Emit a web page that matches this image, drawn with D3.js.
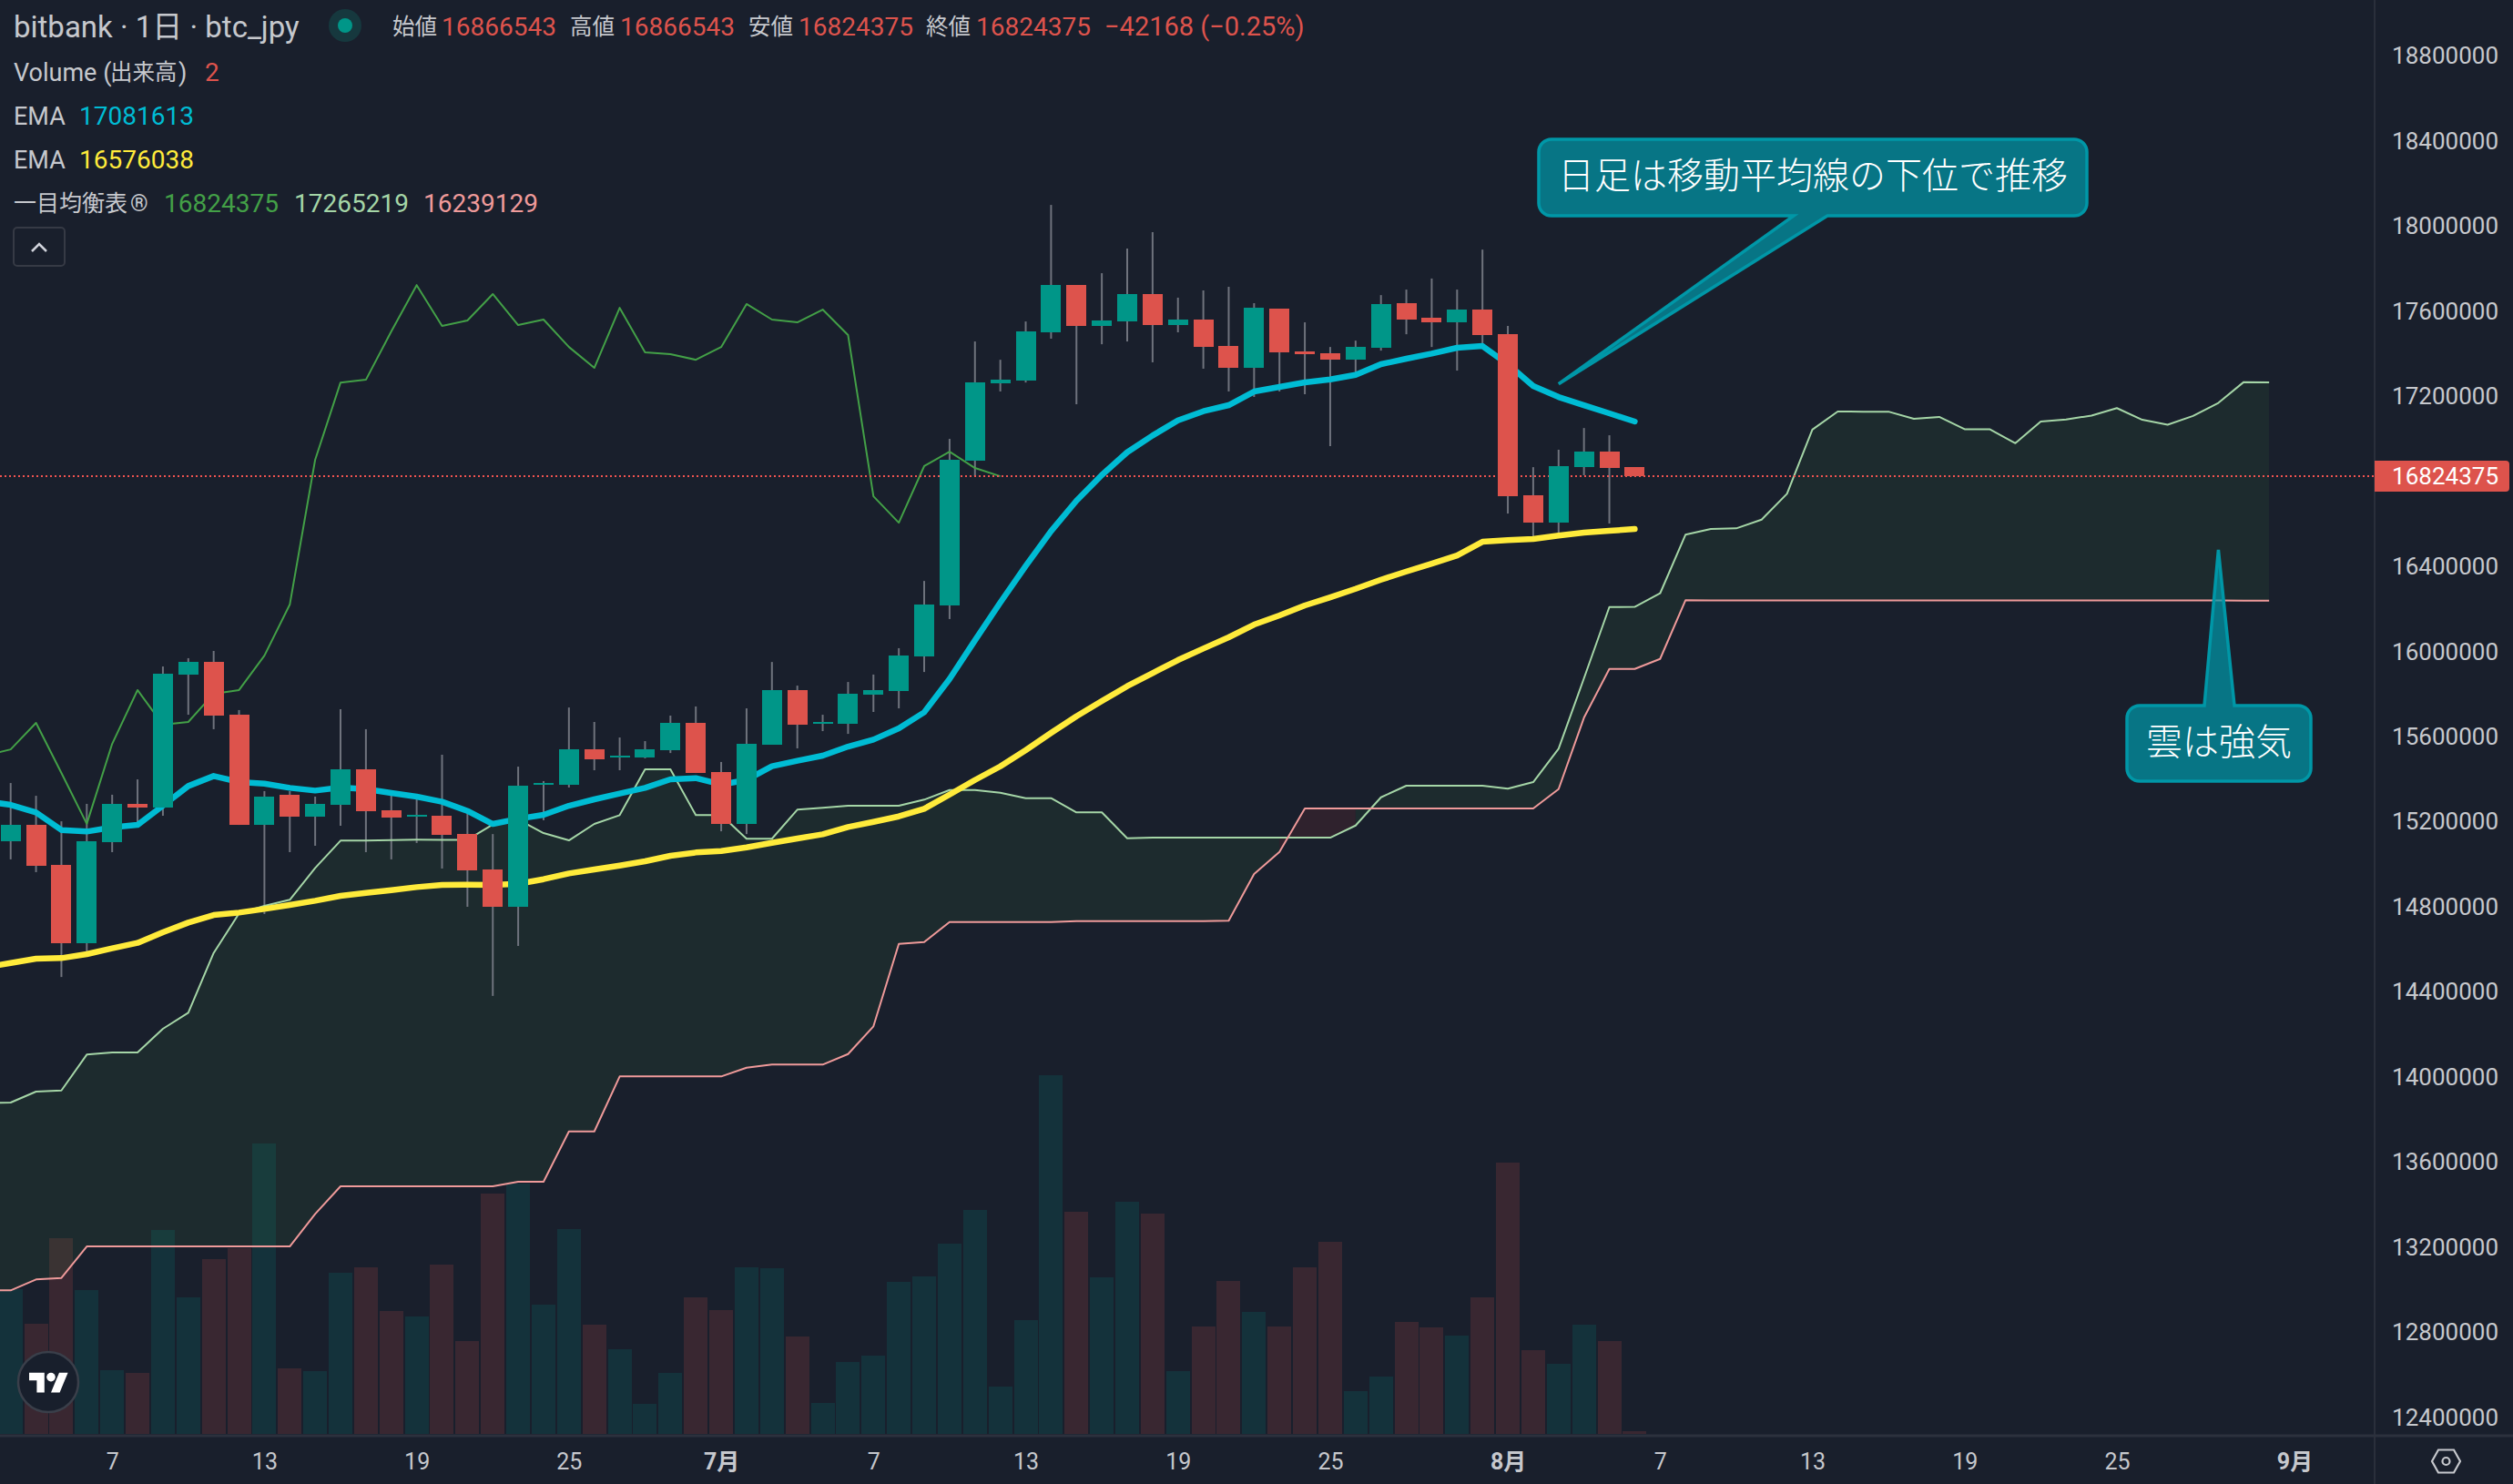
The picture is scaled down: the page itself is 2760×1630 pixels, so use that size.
<!DOCTYPE html>
<html>
<head>
<meta charset="utf-8">
<script src="https://cdn.jsdelivr.net/npm/d3@7"></script>
<style>
	html, body { margin: 0; padding: 0; background: #191f2c; }
	svg { display: block; }
	text { font-family: Roboto, "Noto Sans CJK JP", sans-serif; }
</style>
</head>
<body>
<svg id="chart" width="2760" height="1630"></svg>
<script>
// all prices in thousand yen, bar 0 = June 3
var opens = [15108,15185,14997,14629,15104,15284,15267,15892,15951,15703,15185,15327,15224,15279,15446,15254,15224,15228,15142,14975,14800,15374,15374,15540,15502,15502,15536,15665,15433,15190,15562,15819,15660,15660,15797,15814,15977,16217,16897,17261,17274,17501,17723,17531,17552,17681,17535,17561,17437,17334,17612,17411,17402,17372,17428,17638,17569,17548,17608,17492,16735,16606,16867,16940,16866.543];
var highs = [15382,15322,15202,15284,15327,15399,15930,15969,16003,15725,15344,15344,15318,15729,15635,15348,15305,15515,15241,15142,15459,15391,15737,15669,15596,15579,15699,15742,15481,15733,15951,15840,15703,15857,15892,16016,16332,17000,17458,17372,17552,18100,17723,17779,17895,17972,17664,17698,17715,17638,17612,17548,17432,17462,17676,17702,17754,17702,17890,17531,16867,16949,17051,17017,16866.543];
var lows = [15023,14963,14470,14582,15057,15194,15228,15703,15635,15185,14766,15057,15087,15181,15057,15023,15100,14980,14800,14381,14616,15207,15361,15442,15442,15498,15523,15429,15155,15142,15562,15545,15626,15613,15716,15733,15904,16153,16825,17223,17265,17471,17163,17445,17458,17360,17501,17330,17223,17197,17223,17210,16966,17313,17415,17492,17432,17321,17450,16649,16538,16538,16829,16602,16824.375];
var closes = [15185,14993,14629,15108,15284,15267,15896,15951,15699,15185,15318,15224,15284,15446,15249,15220,15232,15138,14971,14800,15369,15382,15540,15493,15510,15540,15665,15429,15190,15566,15819,15656,15669,15802,15819,15981,16221,16902,17265,17278,17505,17723,17531,17557,17681,17535,17561,17432,17334,17616,17407,17398,17372,17432,17634,17561,17548,17608,17488,16730,16606,16872,16940,16863,16824.375];
var volumes = [106,80.7,143.3,105.3,46.7,44.7,149.3,100,128,136,212.7,48,46,118,122,90,86,124,68,176,183.3,94.7,150,80,62,22,44.7,100,90.7,122,121.3,71.3,22.7,52.7,57.3,111.3,115.3,139.3,164,34.7,83.3,262.7,162.7,114.7,170,161.3,46,78.7,112,89.3,78.7,122,140.7,31.3,42,82,78,72,100,198.7,61.3,51.3,80,68,2];

// line arrays start one bar left of the visible window (bar -1)
var emaFast = [15296.5,15279.4,15243.7,15161,15153.8,15173.8,15185.2,15275.1,15367.8,15414.9,15386.4,15379.3,15359.3,15346.4,15360.7,15353.6,15335,15317.9,15293.7,15250.8,15189.5,15213.8,15232.3,15275.1,15305.1,15332.2,15359.3,15399.2,15404.9,15375,15396.4,15460.6,15486.3,15510.5,15553.3,15586.1,15638.9,15714.5,15871.5,16052.7,16231,16402.3,16566.4,16709.1,16830.3,16937.3,17015.8,17087.2,17130,17158.5,17222.7,17244.1,17265.5,17279.8,17301.2,17351.1,17376.8,17401.1,17428.2,17436.7,17351.1,17248.4,17197,17158.5,17120,17081.6];
var emaSlow = [14514.6,14536,14556,14558.9,14577.4,14604.5,14630.2,14680.1,14725.8,14761.5,14772.8,14790,14808.5,14828.5,14851.3,14865.6,14878.4,14892.7,14902.7,14904.1,14902.7,14908.4,14929.8,14956.9,14975.5,14994,15014,15039.7,15055.4,15062.5,15079.6,15101,15121,15141,15175.4,15199.3,15225,15261,15327.8,15396.2,15460.4,15536.2,15617.5,15695.9,15767.3,15837.1,15898.8,15960,16014.3,16067,16126.9,16169.7,16216.8,16255.3,16295.1,16337.9,16376.5,16413.7,16452.2,16516.4,16523.7,16529.3,16545.1,16559.2,16567.8,16576];
var leadA = [13878,13879.6,13931,13936.6,14105.3,14115.1,14115,14226.4,14302.2,14583,14768.7,14804.3,14833,14982.8,15111.2,15111,15113.7,15115.4,15115,15115,15186.5,15210.9,15146.7,15112.4,15189.5,15231,15446.3,15446,15231,15231,15119.7,15120,15256.7,15265.3,15275.1,15275,15275,15303.8,15349.1,15349,15336.3,15310.6,15311,15243.9,15244,15122.3,15125.3,15125,15125,15125,15125,15125,15125,15125,15182.2,15314.9,15369.3,15369,15369,15369,15355.1,15386.4,15543.5,15874.4,16209.5,16210,16273.7,16549.4,16576.3,16579.3,16620.4,16742,17043.8,17128.5,17128,17128,17094.3,17103.3,17045.5,17045,16979.6,17081.9,17091.3,17109.7,17144.8,17090,17066.9,17108,17169.2,17267.2,17265.2];
var leadB = [12996.6,12996.6,13048,13054.8,13203.4,13203.4,13203.4,13203.4,13203.4,13203.4,13203.4,13203.4,13203.4,13356.2,13485.9,13485.9,13485.9,13485.9,13485.9,13485.9,13485.9,13507.3,13507.3,13744,13744,14002.5,14002.5,14002.5,14002.5,14002.5,14043.6,14058.2,14058.2,14058.2,14107.8,14238,14625.8,14634.3,14728.5,14728.5,14728.5,14728.5,14728.5,14732.8,14732.8,14732.8,14732.8,14732.8,14732.8,14734.5,14954,15058.1,15262.3,15262.3,15262.3,15262.3,15262.3,15262.3,15262.3,15262.3,15262.3,15262.3,15353.4,15689,15918.4,15918.4,15965.5,16241.2,16241,16241,16241,16241,16241,16241,16241,16241,16241,16241,16241,16241,16241,16241,16241,16241,16241,16241,16241,16241,16241,16239.1,16239.1];

var priceTicks = [18800,18400,18000,17600,17200,16800,16400,16000,15600,15200,14800,14400,14000,13600,13200,12800,12400];
var timeTicks = [4,10,16,22,28,34,40,46,52,59,65,71,77,83,90];
var timeLabels = ['7','13','19','25','7月','7','13','19','25','8月','7','13','19','25','9月'];
var monthLabels = ['7月','8月','9月'];

var UP = '#009688', DOWN = '#dd534c', GREY = '#c6c8cd';

var svg = d3.select('#chart');

var x = d3.scaleLinear().domain([0, 64]).range([11.7, 1795.4]);
var y = d3.scaleLinear().domain([18400, 12400]).range([155, 1556.7]);
var yVol = d3.scaleLinear().domain([0, 262.7]).range([1575, 1181]);

svg.append('rect').attr('width', 2760).attr('height', 1630).attr('fill', '#191f2c');
svg.append('defs').append('clipPath').attr('id', 'plot')
	.append('rect').attr('width', 2608).attr('height', 1576);

var plot = svg.append('g').attr('clip-path', 'url(#plot)');

function bars(arr) { return arr.map(function(v, i){ return {i: i, v: v}; }); }
function isUp(i) { return closes[i] >= opens[i]; }

// volume
plot.selectAll('rect.vol').data(bars(volumes)).enter().append('rect')
	.attr('x', function(d){ return x(d.i) - 13; })
	.attr('width', 26)
	.attr('y', function(d){ return yVol(d.v); })
	.attr('height', function(d){ return yVol(0) - yVol(d.v); })
	.attr('fill', function(d){ return isUp(d.i) ? UP : DOWN; })
	.attr('fill-opacity', 0.17)
	.attr('shape-rendering', 'crispEdges');

// cloud, split in runs of one colour. a segment takes the colour of its right end
var cloud = leadA.map(function(a, k){ return {i: k - 1, a: a, b: leadB[k]}; });
var cloudArea = d3.area()
	.x(function(d){ return x(d.i); })
	.y0(function(d){ return y(d.b); })
	.y1(function(d){ return y(d.a); });
var runStart = 0;
for (var k = 1; k <= cloud.length; k++) {
	var bull = cloud[Math.min(k, cloud.length - 1)].a >= cloud[Math.min(k, cloud.length - 1)].b;
	var prevBull = cloud[Math.max(runStart + 1, 1)].a >= cloud[Math.max(runStart + 1, 1)].b;
	if (k == cloud.length || bull != prevBull) {
		plot.append('path')
			.attr('d', cloudArea(cloud.slice(runStart, k)))
			.attr('fill', prevBull ? '#43a047' : '#f44336')
			.attr('fill-opacity', 0.1);
		runStart = k - 1;
	}
}

function drawLine(values, start, color, width) {
	var line = d3.line()
		.x(function(d, k){ return x(k + start); })
		.y(function(d){ return y(d); });
	plot.append('path')
		.attr('d', line(values))
		.attr('fill', 'none')
		.attr('stroke', color)
		.attr('stroke-width', width)
		.attr('stroke-linejoin', 'round')
		.attr('stroke-linecap', width > 3 ? 'round' : 'butt');
}

// wicks go under the lines, bodies above
plot.selectAll('line.wick').data(bars(closes)).enter().append('line')
	.filter(function(d){ return highs[d.i] > lows[d.i] && d.i < 64; })
	.attr('x1', function(d){ return x(d.i); })
	.attr('x2', function(d){ return x(d.i); })
	.attr('y1', function(d){ return y(highs[d.i]); })
	.attr('y2', function(d){ return y(lows[d.i]); })
	.attr('stroke', '#6f737d')
	.attr('stroke-width', 2);

drawLine(leadA, -1, '#a5d6a7', 2);
drawLine(leadB, -1, '#ef9a9a', 2);
drawLine(closes.slice(24), -1, '#43a047', 2);

// last price line
plot.append('line')
	.attr('x1', 0).attr('x2', 2608)
	.attr('y1', y(closes[64])).attr('y2', y(closes[64]))
	.attr('stroke', '#ef5350')
	.attr('stroke-width', 2)
	.attr('stroke-dasharray', '2 3');

drawLine(emaSlow, -1, '#ffeb3b', 6.5);
drawLine(emaFast, -1, '#00bcd4', 6.5);

plot.selectAll('rect.body').data(bars(closes)).enter().append('rect')
	.attr('x', function(d){ return x(d.i) - 11; })
	.attr('width', 22)
	.attr('y', function(d){ return y(Math.max(opens[d.i], closes[d.i])); })
	.attr('height', function(d){ return Math.max(2, Math.abs(y(opens[d.i]) - y(closes[d.i]))); })
	.attr('fill', function(d){ return isUp(d.i) ? UP : DOWN; })
	.attr('shape-rendering', 'crispEdges');

// speech balloons, tips hang on a bar and a price
function balloon(box, tip, base, label) {
	var r = 14, p = d3.path(), below = tip.y > box.y1;
	p.moveTo(box.x0 + r, box.y0);
	if (!below) { p.lineTo(base[0], box.y0); p.lineTo(tip.x, tip.y); p.lineTo(base[1], box.y0); }
	p.arcTo(box.x1, box.y0, box.x1, box.y0 + r, r);
	p.arcTo(box.x1, box.y1, box.x1 - r, box.y1, r);
	if (below) { p.lineTo(base[1], box.y1); p.lineTo(tip.x, tip.y); p.lineTo(base[0], box.y1); }
	p.arcTo(box.x0, box.y1, box.x0, box.y1 - r, r);
	p.arcTo(box.x0, box.y0, box.x0 + r, box.y0, r);
	p.closePath();
	svg.append('path')
		.attr('d', p.toString())
		.attr('fill', '#0097a7')
		.attr('fill-opacity', 0.72)
		.attr('stroke', '#0097a7')
		.attr('stroke-width', 3.5)
		.attr('stroke-linejoin', 'miter');
	svg.append('text')
		.attr('x', (box.x0 + box.x1) / 2)
		.attr('y', (box.y0 + box.y1) / 2 - 2)
		.attr('dy', '0.36em')
		.attr('text-anchor', 'middle')
		.attr('fill', '#ffffff')
		.style('font-family', '"Noto Sans CJK JP", sans-serif')
		.style('font-size', '40px')
		.style('font-weight', 300)
		.text(label);
}
balloon({x0: 1690, x1: 2292, y0: 153, y1: 237}, {x: x(61), y: y(17258)}, [1970, 2007], '日足は移動平均線の下位で推移');
balloon({x0: 2336, x1: 2538, y0: 775, y1: 858}, {x: x(87), y: y(16478)}, [2421, 2454], '雲は強気');

// axes
svg.append('line').attr('x1', 2608).attr('x2', 2608).attr('y1', 0).attr('y2', 1630)
	.attr('stroke', '#2a2f3b').attr('stroke-width', 2);
svg.append('line').attr('x1', 0).attr('x2', 2760).attr('y1', 1577).attr('y2', 1577)
	.attr('stroke', '#2c313d').attr('stroke-width', 3);

var yAxis = d3.axisRight(y)
	.tickValues(priceTicks)
	.tickSize(0)
	.tickFormat(function(d){ return d * 1000; });
var yg = svg.append('g').attr('transform', 'translate(2744,0)').call(yAxis);
yg.select('.domain').remove();
yg.selectAll('text')
	.attr('x', 0)
	.attr('text-anchor', 'end')
	.attr('fill', GREY)
	.style('font-family', 'Roboto, sans-serif')
	.style('font-size', '26px');

var xAxis = d3.axisBottom(x)
	.tickValues(timeTicks)
	.tickSize(0)
	.tickFormat(function(d, i){ return timeLabels[i]; });
var xg = svg.append('g').attr('transform', 'translate(0,1595)').call(xAxis);
xg.select('.domain').remove();
xg.selectAll('text')
	.attr('y', 0)
	.attr('dy', '0.75em')
	.attr('fill', GREY)
	.style('font-family', 'Roboto, "Noto Sans CJK JP", sans-serif')
	.style('font-size', '25px')
	.style('font-weight', function(d, i){ return monthLabels.indexOf(timeLabels[i]) >= 0 ? 700 : 400; });

// last price tag
svg.append('path')
	.attr('d', 'M2608 ' + (y(closes[64]) - 17) + 'h144a4 4 0 0 1 4 4v26a4 4 0 0 1 -4 4h-144z')
	.attr('fill', DOWN);
svg.append('text')
	.attr('x', 2744).attr('y', y(closes[64])).attr('dy', '0.36em')
	.attr('text-anchor', 'end')
	.attr('fill', '#ffffff')
	.style('font-size', '26px')
	.text(closes[64] * 1000);

// legend
var legend = [
	['bitbank · 1日 · btc_jpy', 15, 29, GREY, 33],
	['始値', 431, 29, GREY, 24.5], ['16866543', 485, 29, DOWN, 28],
	['高値', 626, 29, GREY, 24.5], ['16866543', 681, 29, DOWN, 28],
	['安値', 822, 29, GREY, 24.5], ['16824375', 877, 29, DOWN, 28],
	['終値', 1017, 29, GREY, 24.5], ['16824375', 1072, 29, DOWN, 28],
	['−42168 (−0.25%)', 1213, 29, DOWN, 29],
	['Volume (', 15, 79, GREY, 27], ['出来高', 121, 79, GREY, 24.5], [')', 196, 79, GREY, 27], ['2', 225, 79, DOWN, 28],
	['EMA', 15, 127, GREY, 27], ['17081613', 87, 127, '#00bcd4', 28],
	['EMA', 15, 175, GREY, 27], ['16576038', 87, 175, '#ffeb3b', 28],
	['一目均衡表', 15, 223, GREY, 25], ['®', 143, 223, GREY, 25],
	['16824375', 180, 223, '#43a047', 28], ['17265219', 323, 223, '#a5d6a7', 28], ['16239129', 465, 223, '#ef9a9a', 28]
];
svg.selectAll('text.legend').data(legend).enter().append('text')
	.attr('class', 'legend')
	.attr('x', function(d){ return d[1]; })
	.attr('y', function(d){ return d[2]; })
	.attr('dy', '0.36em')
	.attr('fill', function(d){ return d[3]; })
	.style('font-size', function(d){ return d[4] + 'px'; })
	.text(function(d){ return d[0]; });

svg.append('circle').attr('cx', 379).attr('cy', 28).attr('r', 18).attr('fill', '#16383e');
svg.append('circle').attr('cx', 379).attr('cy', 28).attr('r', 8).attr('fill', UP);

// collapse button
svg.append('rect').attr('x', 15).attr('y', 250).attr('width', 56).attr('height', 42).attr('rx', 4)
	.attr('fill', 'none').attr('stroke', '#363a45').attr('stroke-width', 2);
svg.append('path').attr('d', 'M35 276l8 -8l8 8')
	.attr('fill', 'none').attr('stroke', '#d1d4dc').attr('stroke-width', 2.5);

// tradingview badge
svg.append('circle').attr('cx', 53).attr('cy', 1518).attr('r', 33)
	.attr('fill', '#181f2c').attr('stroke', '#3a3f4a').attr('stroke-width', 2.5);
var logo = svg.append('g').attr('transform', 'translate(32,1503) scale(1.2)').attr('fill', '#ffffff');
logo.append('path').attr('d', 'M14 22H7V11H0V4h14v18zM28 22h-8l7.5-18h8L28 22z');
logo.append('circle').attr('cx', 20).attr('cy', 8).attr('r', 4);

// settings icon
svg.append('path').attr('d', 'M2671 1605l7 -12.5h17l7 12.5l-7 12.5h-17z')
	.attr('fill', 'none').attr('stroke', GREY).attr('stroke-width', 2.2);
svg.append('circle').attr('cx', 2686.5).attr('cy', 1605).attr('r', 4)
	.attr('fill', 'none').attr('stroke', GREY).attr('stroke-width', 2.2);
</script>
</body>
</html>
